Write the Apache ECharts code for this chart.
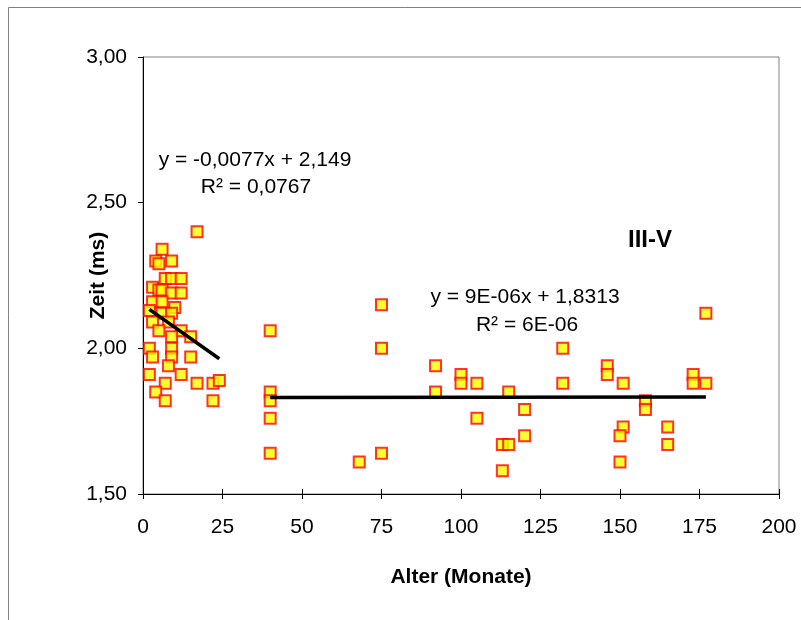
<!DOCTYPE html>
<html>
<head>
<meta charset="utf-8">
<script src="https://cdn.jsdelivr.net/npm/echarts@6/dist/echarts.min.js"></script>
<style>
  html, body { margin: 0; padding: 0; background: #fff; }
  #chart { width: 801px; height: 620px; }
</style>
</head>
<body>
<div id="chart"></div>
<script>
// Latency (ms) against age (months), two age groups with linear trends
const youngAge = [17, 6, 4, 5, 9, 7, 9, 12, 3, 5, 6, 9, 12, 3, 6, 10, 2, 6, 9, 3, 8, 5, 12, 9, 15, 2, 9, 3, 9, 15, 8, 2, 12, 7, 17, 22, 24, 4, 7, 22];
const youngTime = [2.40, 2.34, 2.30, 2.29, 2.30, 2.24, 2.24, 2.24, 2.21, 2.20, 2.20, 2.19, 2.19, 2.16, 2.16, 2.14, 2.13, 2.12, 2.12, 2.09, 2.09, 2.06, 2.06, 2.04, 2.04, 2.00, 2.00, 1.97, 1.97, 1.97, 1.94, 1.91, 1.91, 1.88, 1.88, 1.88, 1.89, 1.85, 1.82, 1.82];

const olderAge = [40, 40, 40, 40, 40, 68, 75, 75, 75, 92, 92, 100, 100, 105, 105, 113, 113, 115, 115, 120, 120, 132, 132, 146, 146, 151, 151, 150, 150, 158, 158, 165, 165, 173, 173, 177, 177];
const olderTime = [2.06, 1.85, 1.82, 1.76, 1.64, 1.61, 2.15, 2.00, 1.64, 1.94, 1.85, 1.91, 1.88, 1.88, 1.76, 1.67, 1.58, 1.85, 1.67, 1.79, 1.70, 2.00, 1.88, 1.94, 1.91, 1.88, 1.73, 1.70, 1.61, 1.82, 1.79, 1.73, 1.67, 1.91, 1.88, 1.88, 2.12];

// Trend coefficients: [slope, intercept]
const youngTrend = [-0.0077, 2.149];
const olderTrend = [0.000009, 1.8313];
const youngTrendText = ['y = -0,0077x + 2,149', 'R² = 0,0767'];
const olderTrendText = ['y = 9E-06x + 1,8313', 'R² = 6E-06'];

const xTicks = [0, 200, 25];
const yTicks = [1.5, 3.0, 0.5];
const groupLabel = 'III-V';

const FONT = '"Liberation Sans", Arial, sans-serif';

function pairs(xs, ys) { return xs.map((x, i) => [x, ys[i]]); }
function trendSegment(xs, coef) {
  const lo = Math.min.apply(null, xs), hi = Math.max.apply(null, xs);
  return [[lo, coef[0] * lo + coef[1]], [hi, coef[0] * hi + coef[1]]];
}

const markerStyle = { color: '#ffff00', borderColor: '#ff0000', borderWidth: 2 };
const trendStyle = { color: '#000', width: 3.5 };

const chart = echarts.init(document.getElementById('chart'), null, { renderer: 'canvas' });
chart.setOption({
  animation: false,
  backgroundColor: '#fff',
  textStyle: { fontFamily: FONT },
  grid: {
    left: 143, top: 57, width: 636, height: 437,
    show: true, borderColor: '#808080', borderWidth: 1, backgroundColor: 'transparent'
  },
  xAxis: [{
    type: 'value', min: xTicks[0], max: xTicks[1], interval: xTicks[2],
    position: 'bottom',
    axisLine: { show: true, lineStyle: { color: '#000', width: 1 } },
    axisTick: { show: true, inside: false, length: 5, lineStyle: { color: '#000' } },
    axisLabel: { color: '#000', fontSize: 21, margin: 23, fontFamily: FONT },
    splitLine: { show: false },
    name: 'Alter (Monate)', nameLocation: 'middle', nameGap: 73, nameMoveOverlap: false,
    nameTextStyle: { color: '#000', fontSize: 21, fontWeight: 'bold', fontFamily: FONT }
  }, {
    type: 'value', min: xTicks[0], max: xTicks[1], interval: xTicks[2],
    position: 'bottom', offset: 0,
    axisLine: { show: false },
    axisTick: { show: true, inside: true, length: 5, lineStyle: { color: '#000' } },
    axisLabel: { show: false },
    splitLine: { show: false }
  }],
  yAxis: {
    type: 'value', min: yTicks[0], max: yTicks[1], interval: yTicks[2],
    axisLine: { show: true, lineStyle: { color: '#000', width: 1 } },
    axisTick: { show: true, inside: false, length: 5, lineStyle: { color: '#000' } },
    axisLabel: {
      color: '#000', fontSize: 21, margin: 16, fontFamily: FONT,
      formatter: v => v.toFixed(2).replace('.', ',')
    },
    splitLine: { show: false },
    name: 'Zeit (ms)', nameLocation: 'middle', nameGap: 34, nameRotate: 90, nameMoveOverlap: false,
    nameTextStyle: { color: '#000', fontSize: 21, fontWeight: 'bold', fontFamily: FONT }
  },
  series: [
    {
      type: 'scatter', symbol: 'rect', symbolSize: 11,
      data: pairs(youngAge, youngTime), itemStyle: markerStyle, z: 2
    },
    {
      type: 'scatter', symbol: 'rect', symbolSize: 11,
      data: pairs(olderAge, olderTime), itemStyle: markerStyle, z: 2
    },
    {
      type: 'line', data: trendSegment(youngAge, youngTrend), showSymbol: false,
      symbol: 'none', lineStyle: trendStyle, z: 3
    },
    {
      type: 'line', data: trendSegment(olderAge, olderTrend), showSymbol: false,
      symbol: 'none', lineStyle: trendStyle, z: 3
    }
  ],
  graphic: [
    {
      type: 'rect', shape: { x: 8.5, y: 7.5, width: 1000, height: 1000 },
      style: { fill: 'none', stroke: '#808080', lineWidth: 1 }, silent: true, z: -1
    },
    {
      type: 'text', x: 255, y: 160,
      style: { text: youngTrendText[0], font: '21px ' + FONT, fill: '#000', align: 'center', verticalAlign: 'middle' }
    },
    {
      type: 'text', x: 256, y: 187,
      style: { text: youngTrendText[1], font: '21px ' + FONT, fill: '#000', align: 'center', verticalAlign: 'middle' }
    },
    {
      type: 'text', x: 525, y: 297,
      style: { text: olderTrendText[0], font: '21px ' + FONT, fill: '#000', align: 'center', verticalAlign: 'middle' }
    },
    {
      type: 'text', x: 527, y: 325,
      style: { text: olderTrendText[1], font: '21px ' + FONT, fill: '#000', align: 'center', verticalAlign: 'middle' }
    },
    {
      type: 'text', x: 650, y: 240,
      style: { text: groupLabel, font: 'bold 24px ' + FONT, fill: '#000', align: 'center', verticalAlign: 'middle' }
    }
  ]
});
</script>
</body>
</html>
